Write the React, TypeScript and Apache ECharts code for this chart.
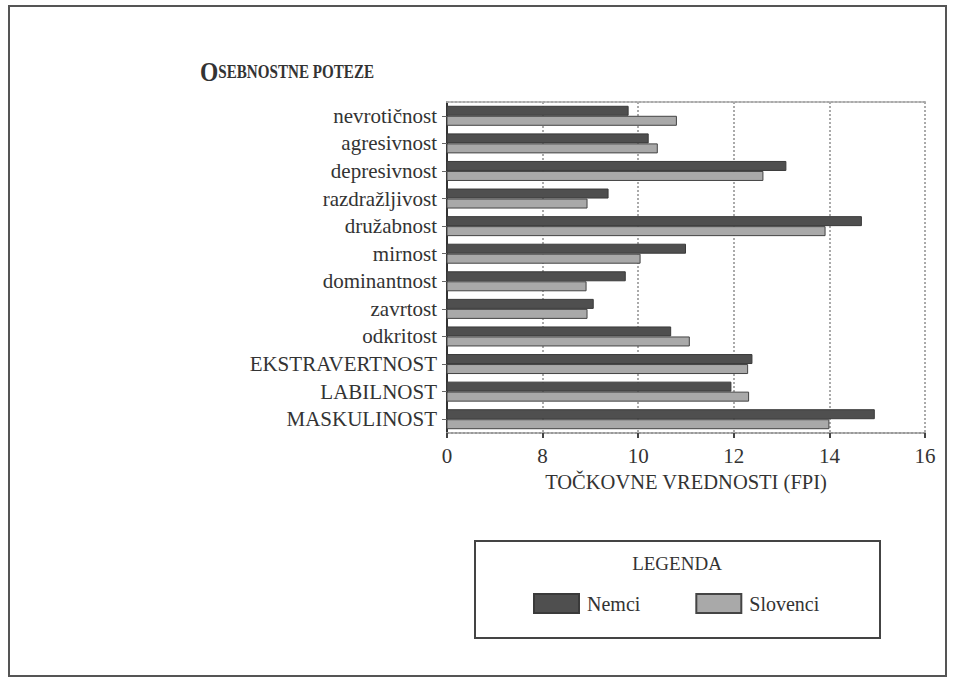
import React, { useEffect, useRef } from "react";
import * as echarts from "echarts";

const categories = [
  "nevrotičnost",
  "agresivnost",
  "depresivnost",
  "razdražljivost",
  "družabnost",
  "mirnost",
  "dominantnost",
  "zavrtost",
  "odkritost",
  "EKSTRAVERTNOST",
  "LABILNOST",
  "MASKULINOST",
];
const nemci = [9.8, 10.22, 13.1, 9.38, 14.68, 11.0, 9.74, 9.07, 10.69, 12.39, 11.95, 14.95];
const slovenci = [10.81, 10.41, 12.62, 8.94, 13.92, 10.05, 8.92, 8.94, 11.08, 12.3, 12.32, 14.0];
const xTicks = [6, 8, 10, 12, 14, 16];
const xTickLabels = ["0", "8", "10", "12", "14", "16"];

const FONT = "Liberation Serif";

export default function App() {
  const ref = useRef<HTMLDivElement>(null);
  useEffect(() => {
    document.body.style.margin = "0";
    const chart = echarts.init(ref.current!, null, { renderer: "svg" });
    chart.setOption({
      animation: false,
      backgroundColor: "#ffffff",
      grid: { left: 447, right: 30, top: 102, bottom: 247 },
      legend: {
        left: 528,
        top: 588,
        itemWidth: 45,
        itemHeight: 19,
        itemGap: 55,
        icon: "rect",
        textStyle: { fontFamily: FONT, fontSize: 20, color: "#333", padding: [0, 0, 0, 3] },
        data: ["Nemci", "Slovenci"],
      },
      xAxis: [
        {
          type: "value",
          min: 6,
          max: 16,
          interval: 2,
          position: "bottom",
          axisLine: { show: true, lineStyle: { color: "#999", type: "dotted", width: 2 } },
          axisTick: { show: true, length: 5, lineStyle: { color: "#444", width: 2 } },
          axisLabel: {
            fontFamily: FONT,
            fontSize: 21,
            color: "#333",
            margin: 12,
            formatter: (v: number) => xTickLabels[xTicks.indexOf(v)] ?? "",
          },
          splitLine: { show: true, lineStyle: { color: "#aaa", type: "dotted", width: 2 } },
          name: "TOČKOVNE VREDNOSTI (FPI)",
          nameLocation: "middle",
          nameGap: 38,
          nameTextStyle: { fontFamily: FONT, fontSize: 20.5, color: "#333" },
        },
        {
          type: "value",
          min: 6,
          max: 16,
          interval: 2,
          position: "top",
          axisLine: { show: true, lineStyle: { color: "#aaa", type: "dotted", width: 2 } },
          axisTick: { show: false },
          axisLabel: { show: false },
          splitLine: { show: false },
        },
      ],
      yAxis: {
        type: "category",
        inverse: true,
        data: categories,
        axisLine: { show: true, lineStyle: { color: "#333", width: 2 } },
        axisTick: { show: true, length: 5, alignWithLabel: true, lineStyle: { color: "#666" } },
        axisLabel: { fontFamily: FONT, fontSize: 21, color: "#333", margin: 10 },
      },
      series: [
        {
          name: "Nemci",
          type: "bar",
          data: nemci,
          barWidth: 10,
          barGap: "0%",
          itemStyle: { color: "#4f4f4f", borderColor: "#3a3a3a", borderWidth: 1 },
        },
        {
          name: "Slovenci",
          type: "bar",
          data: slovenci,
          barWidth: 10,
          barGap: "0%",
          itemStyle: { color: "#a9a9a9", borderColor: "#444", borderWidth: 1 },
        },
      ],
      graphic: [
        {
          type: "rect",
          shape: { x: 9, y: 6, width: 937, height: 670 },
          style: { fill: "none", stroke: "#555", lineWidth: 2 },
          silent: true,
        },
        {
          type: "text",
          x: 200,
          y: 86,
          scaleX: 0.84,
          style: {
            text: "{a|O}{b|SEBNOSTNE POTEZE}",
            verticalAlign: "bottom",
            rich: {
              a: { fontFamily: FONT, fontSize: 28, fontWeight: "bold", fill: "#333" },
              b: { fontFamily: FONT, fontSize: 18, fontWeight: "bold", fill: "#333" },
            },
          },
        },
        {
          type: "rect",
          shape: { x: 475, y: 541, width: 405, height: 97 },
          style: { fill: "none", stroke: "#444", lineWidth: 2 },
          silent: true,
        },
        {
          type: "text",
          x: 677,
          y: 563,
          style: {
            text: "LEGENDA",
            fontFamily: FONT,
            fontSize: 19,
            fill: "#333",
            align: "center",
            verticalAlign: "middle",
          },
        },
      ],
    });
    return () => chart.dispose();
  }, []);
  return <div ref={ref} style={{ width: 955, height: 680 }} />;
}
